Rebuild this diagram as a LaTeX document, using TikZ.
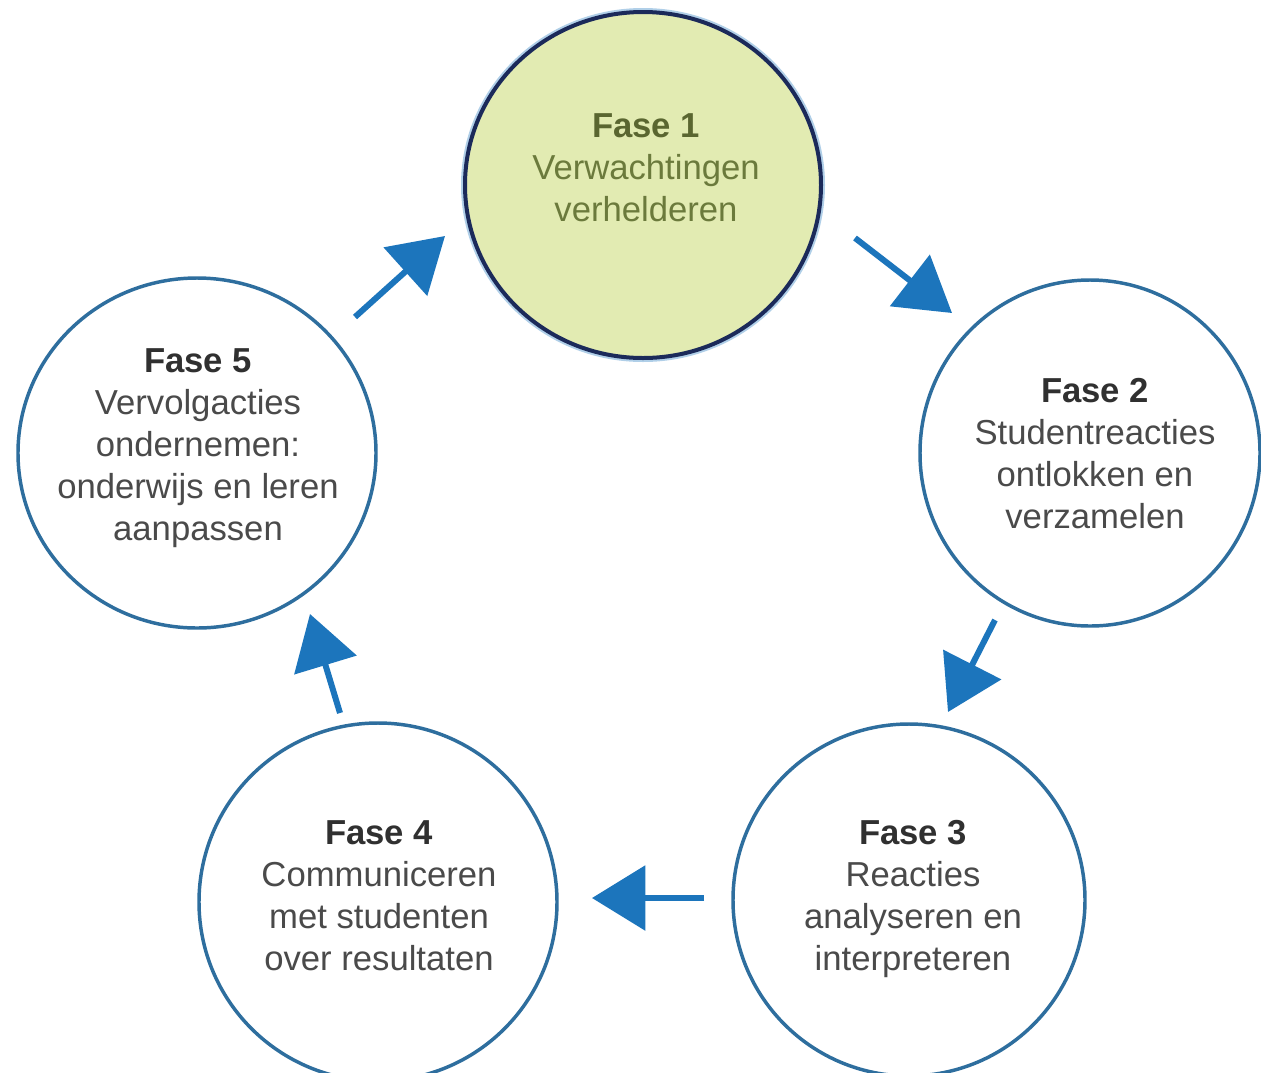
\documentclass[tikz,border=0pt]{standalone}
\usepackage{fontspec}
\setmainfont{Liberation Sans}
\usetikzlibrary{arrows.meta,shapes.geometric}
\definecolor{arrowblue}{HTML}{1C75BC}
\definecolor{ringblue}{HTML}{2E6E9E}
\definecolor{navy}{HTML}{1B2A5A}
\definecolor{paleg}{HTML}{E2EBB2}
\definecolor{olivetxt}{HTML}{6B7A3C}
\definecolor{olivebold}{HTML}{5A6630}
\definecolor{txtgrey}{HTML}{4A4A4A}
\definecolor{boldgrey}{HTML}{303030}
\begin{document}
\begin{tikzpicture}[x=0.75pt,y=-0.75pt,
  phase/.style={ellipse, draw=ringblue, line width=2.6pt, inner sep=0pt, outer sep=0pt, fill=white},
  phasetext/.style={align=center, inner sep=0pt, anchor=north, text=txtgrey,
    font=\fontsize{26}{31.5}\selectfont},
  flow/.style={color=arrowblue, line width=4.5pt, -{Triangle[length=40pt,width=48pt]}}
]
\clip (0,0) rectangle (1261,1072);
\fill[white] (0,0) rectangle (1261,1072);

% circles
\node[phase, draw=navy, line width=3pt, fill=paleg,
      preaction={draw=arrowblue!35, line width=6pt},
      minimum width=267pt, minimum height=259.5pt] (c1) at (643,185) {};
\node[phase, minimum width=255pt, minimum height=259.5pt] (c2) at (1090,453) {};
\node[phase, minimum width=264pt, minimum height=264pt] (c3) at (909,900) {};
\node[phase, minimum width=268.5pt, minimum height=268.5pt] (c4) at (378,902) {};
\node[phase, minimum width=268.5pt, minimum height=262.5pt] (c5) at (197,453) {};

% texts
\node[phasetext, text=olivetxt] (t1) at (646,113)
  {{\bfseries\color{olivebold}Fase 1}\\Verwachtingen\\verhelderen};
\node[phasetext] (t2) at (1095,378)
  {{\bfseries\color{boldgrey}Fase 2}\\Studentreacties\\ontlokken en\\verzamelen};
\node[phasetext] (t3) at (913,820)
  {{\bfseries\color{boldgrey}Fase 3}\\Reacties\\analyseren en\\interpreteren};
\node[phasetext] (t4) at (379,820)
  {{\bfseries\color{boldgrey}Fase 4}\\Communiceren\\met studenten\\over resultaten};
\node[phasetext] (t5) at (198,348)
  {{\bfseries\color{boldgrey}Fase 5}\\Vervolgacties\\ondernemen:\\onderwijs en leren\\aanpassen};

% arrow end points
\coordinate (a12s) at (855,238);
\coordinate (a12e) at (952,313);
\coordinate (a23s) at (995,620);
\coordinate (a23e) at (948,712);
\coordinate (a34s) at (704,898);
\coordinate (a34e) at (592,898);
\coordinate (a45s) at (340,713);
\coordinate (a45e) at (310,614);
\coordinate (a51s) at (355,317);
\coordinate (a51e) at (445,236);

\draw[flow] (a12s) -- (a12e);
\draw[flow] (a23s) -- (a23e);
\draw[flow] (a34s) -- (a34e);
\draw[flow] (a45s) -- (a45e);
\draw[flow] (a51s) -- (a51e);
\end{tikzpicture}
\end{document}
